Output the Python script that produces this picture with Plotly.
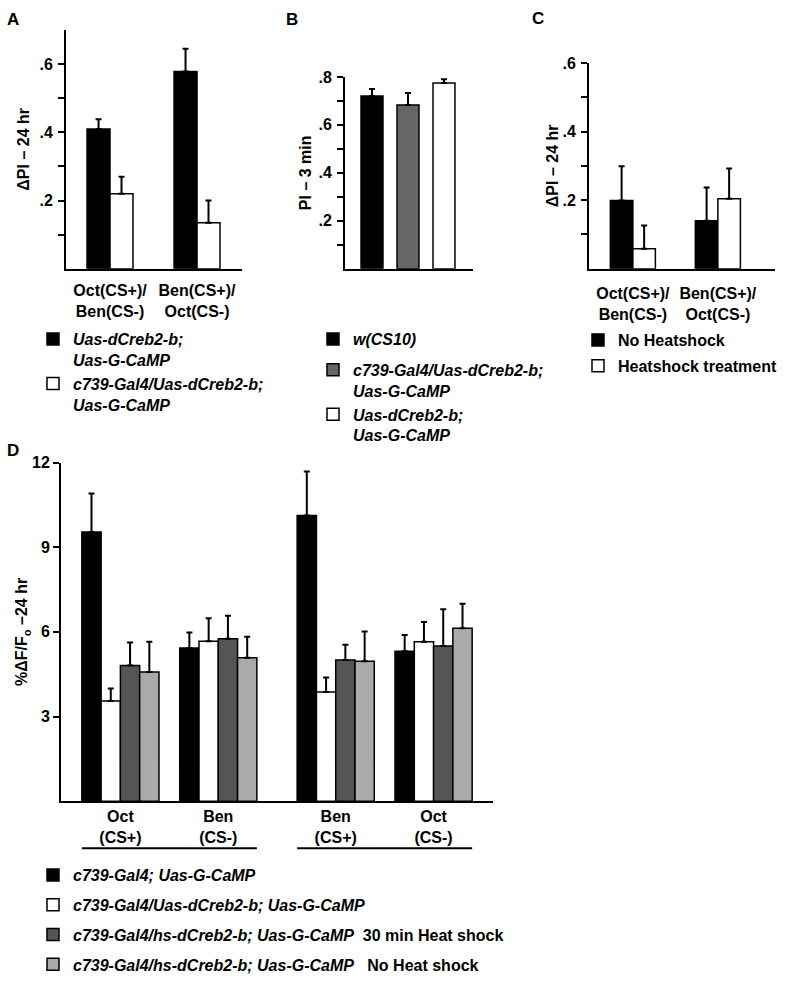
import plotly.graph_objects as go

W, H = 798, 982
FONT = "Liberation Sans"

# ---------------- data ----------------
# Panel A
a_categories = ["Oct(CS+)/<br>Ben(CS-)", "Ben(CS+)/<br>Oct(CS-)"]
a_names = ["Uas-dCreb2-b;<br>Uas-G-CaMP", "c739-Gal4/Uas-dCreb2-b;<br>Uas-G-CaMP"]
a_black = [0.41, 0.578]
a_black_err = [0.028, 0.067]
a_white = [0.22, 0.135]
a_white_err = [0.05, 0.065]
a_ticks = [0.2, 0.4, 0.6]
a_ticktext = [".2", ".4", ".6"]
a_minor = [0.1, 0.3, 0.5]

# Panel B
b_names = ["w(CS10)", "c739-Gal4/Uas-dCreb2-b;<br>Uas-G-CaMP", "Uas-dCreb2-b;<br>Uas-G-CaMP"]
b_values = [0.72, 0.683, 0.775]
b_err = [0.03, 0.05, 0.015]
b_ticks = [0.2, 0.4, 0.6, 0.8]
b_ticktext = [".2", ".4", ".6", ".8"]
b_minor = [0.1, 0.3, 0.5, 0.7]

# Panel C
c_categories = ["Oct(CS+)/<br>Ben(CS-)", "Ben(CS+)/<br>Oct(CS-)"]
c_names = ["No Heatshock", "Heatshock treatment"]
c_black = [0.199, 0.14]
c_black_err = [0.10, 0.097]
c_white = [0.058, 0.204]
c_white_err = [0.068, 0.088]
c_ticks = [0.2, 0.4, 0.6]
c_ticktext = [".2", ".4", ".6"]
c_minor = [0.1, 0.3, 0.5]

# Panel D
d_categories = ["Oct<br>(CS+)", "Ben<br>(CS-)", "Ben<br>(CS+)", "Oct<br>(CS-)"]
d_names = [
    "<i>c739-Gal4; Uas-G-CaMP</i>",
    "<i>c739-Gal4/Uas-dCreb2-b; Uas-G-CaMP</i>",
    "<i>c739-Gal4/hs-dCreb2-b; Uas-G-CaMP</i>\u00a0\u00a030 min Heat shock",
    "<i>c739-Gal4/hs-dCreb2-b; Uas-G-CaMP</i>\u00a0\u00a0\u00a0No Heat shock",
]
d_black = [9.54, 5.43, 10.12, 5.31]
d_black_err = [1.36, 0.55, 1.56, 0.58]
d_white = [3.55, 5.67, 3.87, 5.65]
d_white_err = [0.44, 0.81, 0.51, 0.70]
d_dark = [4.81, 5.76, 5.00, 5.50]
d_dark_err = [0.81, 0.81, 0.54, 1.30]
d_light = [4.58, 5.08, 4.96, 6.13]
d_light_err = [1.07, 0.75, 1.05, 0.87]
d_ticks = [3, 6, 9, 12]
d_ticktext = ["3", "6", "9", "12"]

# ---------------- helpers ----------------
def xdom(p0, p1):
    return [p0 / W, p1 / W]

def ydom(top, bottom):
    return [1 - bottom / H, 1 - top / H]

def err(vals):
    return dict(type="data", symmetric=False, array=vals, arrayminus=[0] * len(vals),
                thickness=2, width=3, color="black")

LINE = dict(color="black", width=1.5)

fig = go.Figure()

# Panel A
bw_a = 0.264
fig.add_trace(go.Bar(x=a_categories, y=a_black, error_y=err(a_black_err), name=a_names[0],
                     legendgroup="a1",
                     marker=dict(color="black", line=LINE), width=bw_a, offset=-bw_a,
                     xaxis="x", yaxis="y", legend="legend"))
fig.add_trace(go.Bar(x=a_categories, y=a_white, error_y=err(a_white_err), name=a_names[1],
                     legendgroup="a2",
                     marker=dict(color="white", line=LINE), width=bw_a, offset=0,
                     xaxis="x", yaxis="y", legend="legend"))

# Panel B
bw_b = 0.61
b_colors = ["black", "#666666", "white"]
b_groups = ["b1", "b2", "b2"]
for nm, v, e, col, grp in zip(b_names, b_values, b_err, b_colors, b_groups):
    fig.add_trace(go.Bar(x=[nm], y=[v], error_y=err([e]), name=nm, legendgroup=grp,
                         marker=dict(color=col, line=LINE), width=bw_b, offset=-bw_b / 2,
                         xaxis="x2", yaxis="y2", legend="legend2"))

# Panel C
bw_c = 0.265
fig.add_trace(go.Bar(x=c_categories, y=c_black, error_y=err(c_black_err), name=c_names[0],
                     legendgroup="c1",
                     marker=dict(color="black", line=LINE), width=bw_c, offset=-bw_c,
                     xaxis="x3", yaxis="y3", legend="legend3"))
fig.add_trace(go.Bar(x=c_categories, y=c_white, error_y=err(c_white_err), name=c_names[1],
                     legendgroup="c2",
                     marker=dict(color="white", line=LINE), width=bw_c, offset=0,
                     xaxis="x3", yaxis="y3", legend="legend3"))

# Panel D  (numeric positions: index plus a gap between the two pairs)
d_pos = [i + (0.2 if i >= 2 else 0.0) for i in range(len(d_categories))]
bw_d = 0.197
d_series = [(d_black, d_black_err, "black"), (d_white, d_white_err, "white"),
            (d_dark, d_dark_err, "#555555"), (d_light, d_light_err, "#aaaaaa")]
for k, ((vals, errs, col), nm) in enumerate(zip(d_series, d_names)):
    fig.add_trace(go.Bar(x=d_pos, y=vals, error_y=err(errs), name=nm, legendgroup="d%d" % k,
                         marker=dict(color=col, line=LINE), width=bw_d, offset=-2 * bw_d + k * bw_d,
                         xaxis="x4", yaxis="y4", legend="legend4"))

tickfont = dict(family=FONT, size=16, color="black", weight="bold")
titlefont = dict(family=FONT, size=16, color="black", weight="bold")

def yaxis(dom, rng, tv, tt, minor, title, anchor, standoff, lso=2):
    d = dict(domain=dom, range=rng, anchor=anchor, showline=True, linewidth=2, linecolor="black",
             ticks="outside", ticklen=6, tickwidth=2, tickcolor="black", showgrid=False,
             zeroline=False, tickvals=tv, ticktext=tt, tickfont=tickfont, ticklabelstandoff=lso,
             title=dict(text=title, font=titlefont, standoff=standoff), automargin=False)
    if minor:
        d["minor"] = dict(tickvals=minor, ticks="outside", ticklen=6, tickwidth=2, tickcolor="black",
                          showgrid=False)
    return d

def xaxis(dom, rng, anchor, **kw):
    d = dict(domain=dom, range=rng, anchor=anchor, showline=True, linewidth=2, linecolor="black",
             ticks="", showgrid=False, zeroline=False, tickfont=tickfont, automargin=False)
    d.update(kw)
    return d

fig.update_layout(
    width=W, height=H, margin=dict(l=0, r=0, t=0, b=0),
    paper_bgcolor="white", plot_bgcolor="white", barmode="overlay",
    font=dict(family=FONT, color="black"),
    xaxis=xaxis(xdom(66, 242), [-0.506, 1.517], "y", ticklabelstandoff=6),
    yaxis=yaxis(ydom(30, 269), [0, 0.7], a_ticks, a_ticktext, a_minor, "ΔPI – 24 hr", "x", 6),
    xaxis2=xaxis(xdom(345, 473), [-0.75, 2.806], "y2", showticklabels=False),
    yaxis2=yaxis(ydom(77, 269), [0, 0.8], b_ticks, b_ticktext, b_minor, "PI – 3 min", "x2", 3),
    xaxis3=xaxis(xdom(589, 775), [-0.516, 1.672], "y3", ticklabelstandoff=9),
    yaxis3=yaxis(ydom(63, 269), [0, 0.6], c_ticks, c_ticktext, c_minor, "ΔPI – 24 hr", "x3", 0),
    xaxis4=xaxis(xdom(61, 493), [-0.607, 3.807], "y4", tickvals=d_pos, ticktext=d_categories,
                 ticklabelstandoff=0),
    yaxis4=yaxis(ydom(463, 802), [0, 12], d_ticks, d_ticktext, None,
                 "%ΔF/F<sub>o</sub> –24 hr", "x4", 0, lso=0),
)

legfont_it = dict(family=FONT, size=16, color="black", weight="bold", style="italic")
legfont = dict(family=FONT, size=16, color="black", weight="bold")
common = dict(xanchor="left", yanchor="top", valign="top", bgcolor="rgba(0,0,0,0)",
              traceorder="grouped", itemclick=False, itemdoubleclick=False)
fig.update_layout(
    legend=dict(x=33 / W, y=1 - 322 / H, font=legfont_it, tracegroupgap=0, **common),
    legend2=dict(x=313 / W, y=1 - 322 / H, font=legfont_it, tracegroupgap=7, **common),
    legend3=dict(x=578 / W, y=1 - 323 / H, font=legfont, tracegroupgap=2, **common),
    legend4=dict(x=33 / W, y=1 - 859 / H, font=legfont, tracegroupgap=6, **common),
    showlegend=True,
)

# underlines beneath the paired groups in panel D
for g0, g1 in [(0, 1), (2, 3)]:
    fig.add_shape(type="line", xref="x4", yref="y4 domain",
                  x0=d_pos[g0] - 2 * bw_d, x1=d_pos[g1] + 2 * bw_d,
                  y0=-47 / 339, y1=-47 / 339, line=dict(color="black", width=2))

# panel letters
for txt, px, py in [("A", 13, 20), ("B", 292, 20), ("C", 538, 19), ("D", 13, 451)]:
    fig.add_annotation(text="<b>" + txt + "</b>", x=px / W, y=1 - py / H, xref="paper", yref="paper",
                       showarrow=False, font=dict(family=FONT, size=17, color="black"),
                       xanchor="center", yanchor="middle")

fig.write_html("out.html", config={"displayModeBar": False},
               post_script="document.body.style.margin='0px';")
